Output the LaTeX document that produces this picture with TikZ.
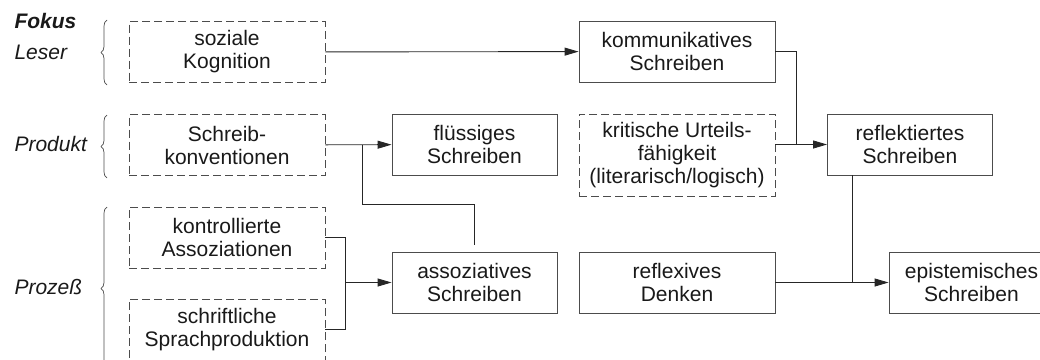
\documentclass[tikz,border=0pt]{standalone}
\usepackage{fontspec}
\setmainfont{Liberation Sans}
\usetikzlibrary{arrows.meta,decorations.pathreplacing}
\begin{document}
\begin{tikzpicture}[x=1pt,y=-1pt,font=\fontsize{21}{23}\selectfont]

      % Solid boxes are the kinds of writing, dashed boxes are the abilities feeding them
      \tikzstyle{stage}=[draw=black!70,line width=0.9pt,text=black!90,align=center,minimum height=61pt,inner sep=0pt]
      \tikzstyle{skill}=[stage,dash pattern=on 8pt off 4pt,minimum width=196pt]
      \tikzstyle{focus}=[anchor=west,text=black!90,font=\fontsize{21}{23}\selectfont\itshape]
      \tikzstyle{link}=[draw=black!85,line width=0.9pt]
      \tikzstyle{feed}=[link,-{Triangle[length=14pt,width=8pt]}]
      \tikzstyle{curly}=[draw=black!70,line width=0.7pt,decorate,decoration={brace,amplitude=6pt}]

      \def\wide{196pt}    % Width of the wide boxes
      \def\narrow{165pt}  % Width of the narrow boxes

      \useasboundingbox (0,0) rectangle (1040,359);

      % Left column: focus labels and their braces
      \node [focus,font=\fontsize{21}{23}\selectfont\bfseries\itshape] (fokus) at (11,21) {Fokus};
      \node [focus] (leser) at (11,52) {Leser};
      \node [focus] (produkt) at (11,144) {Produkt};
      \node [focus] (prozess) at (11,287) {Prozeß};
      \draw [curly] (107,85) -- (107,20);
      \draw [curly] (107,178) -- (107,115);
      \draw [curly] (107,370) -- (107,207);

      % Dashed boxes
      \node [skill] (kognition) at (227,52) {soziale\\Kognition};
      \node [skill] (konvention) at (227,145) {Schreib-\\konventionen};
      \node [skill] (assoziation) at (227,237.5) {kontrollierte\\Assoziationen};
      \node [skill] (sprache) at (227,329.5) {schriftliche\\Sprachproduktion};
      \node [skill,minimum height=82pt] (urteil) at (677,155) {kritische Urteils-\\fähigkeit\\(literarisch/logisch)};

      % Solid boxes
      \node [stage,minimum width=\wide] (kommunikativ) at (677,51.5) {kommunikatives\\Schreiben};
      \node [stage,minimum width=\narrow] (fluessig) at (474.5,144.5) {flüssiges\\Schreiben};
      \node [stage,minimum width=\narrow] (reflektiert) at (910,144.5) {reflektiertes\\Schreiben};
      \node [stage,minimum width=\narrow] (assoziativ) at (474.5,282.5) {assoziatives\\Schreiben};
      \node [stage,minimum width=\wide] (reflexiv) at (677,282.5) {reflexives\\Denken};
      \node [stage,minimum width=\narrow] (epistemisch) at (971.5,282.5) {epistemisches\\Schreiben};

      \coordinate (k1) at (362,204);      % Bend of the line rising from the associative box
      \coordinate (k2) at (345,0);        % x of the joint of the two process boxes
      \coordinate (k3) at (796,0);        % x of the joint below the communicative box

      % Connectors
      \draw [feed] (kognition) -- (kommunikativ);
      \draw [feed] (konvention) -- (fluessig);
      \draw [link,shorten >=7pt] (k1 |- fluessig) -- (k1) -| (assoziativ.north);
      \draw [link] (assoziation.east) -| (k2 |- sprache) -- (sprache.east);
      \draw [feed] (k2 |- assoziativ) -- (assoziativ);
      \draw [feed] (urteil.east |- reflektiert) -- (reflektiert);
      \draw [link] (kommunikativ.east) -| (k3 |- reflektiert);
      \draw [feed] (reflexiv) -- (epistemisch);
      \draw [link] ([xshift=-58pt]reflektiert.south) -- ([xshift=-58pt]reflektiert.south |- reflexiv);

   \end{tikzpicture}
\end{document}
